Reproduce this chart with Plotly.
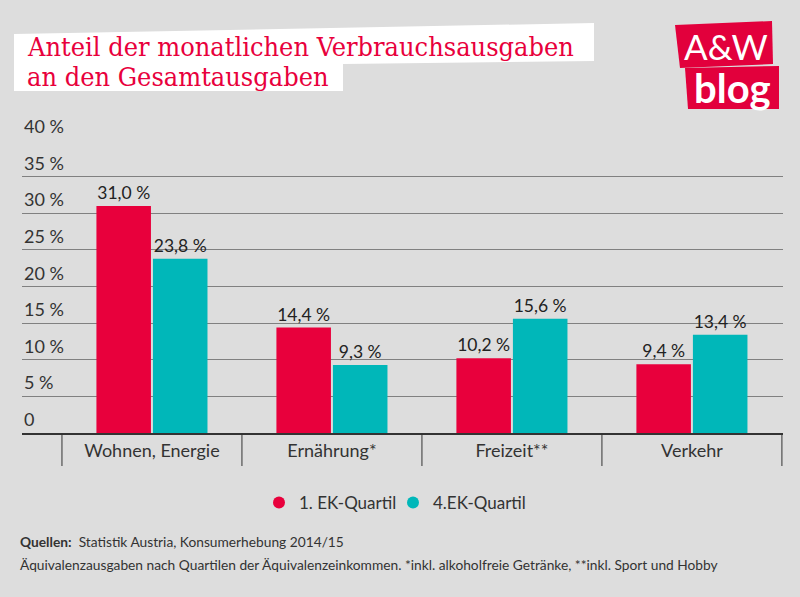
import plotly.graph_objects as go

categories = ["Wohnen, Energie", "Ernährung*", "Freizeit**", "Verkehr"]
q1_values = [31.0, 14.4, 10.2, 9.4]
q4_values = [23.8, 9.3, 15.6, 13.4]
q1_labels = ["31,0 %", "14,4 %", "10,2 %", "9,4 %"]
q4_labels = ["23,8 %", "9,3 %", "15,6 %", "13,4 %"]
y_ticks = [0, 5, 10, 15, 20, 25, 30, 35, 40]
y_tick_labels = ["0", "5 %", "10 %", "15 %", "20 %", "25 %", "30 %", "35 %", "40 %"]
series_names = ["1. EK-Quartil", "4.EK-Quartil"]

RED = "#e8003c"
TEAL = "#00b7b9"
LOGO = "#e2003c"
BG = "#dddddd"
INK = "#333333"
FONT = "Lato"
W, H = 800, 597
L, R, T, B = 22, 783, 140, 433


def px(x):
    return (x - L) / (R - L)


def py(y):
    return (B - y) / (B - T)


def poly(points, color):
    path = "M " + " L ".join(f"{px(x):.5f},{py(y):.5f}" for x, y in points) + " Z"
    return dict(type="path", path=path, xref="paper", yref="paper", fillcolor=color,
                line_width=0, layer="below")


fig = go.Figure()
fig.add_bar(x=categories, y=q1_values, name=series_names[0], marker_color=RED, marker_line_width=0,
            text=q1_labels, textposition="outside", cliponaxis=False, showlegend=False,
            textfont=dict(family=FONT, size=17.5, color="#222222"))
fig.add_bar(x=categories, y=q4_values, name=series_names[1], marker_color=TEAL, marker_line_width=0,
            text=q4_labels, textposition="outside", cliponaxis=False, showlegend=False,
            textfont=dict(family=FONT, size=17.5, color="#222222"))
for name, color in zip(series_names, [RED, TEAL]):
    fig.add_scatter(x=[None], y=[None], mode="markers", name=name,
                    marker=dict(color=color, size=17, symbol="circle"))

shapes = [
    poly([(14, 34), (594, 23), (594, 61), (343, 64), (343, 91), (14, 91)], "#ffffff"),
    poly([(675, 25), (772, 21), (773, 64), (680, 68)], LOGO),
    poly([(685, 68), (779, 66), (779, 109), (688, 109)], LOGO),
]
for i in range(len(categories) + 1):
    shapes.append(dict(type="line", x0=i - 0.5, x1=i - 0.5, xref="x", y0=py(433), y1=py(466),
                       yref="paper", line=dict(color=INK, width=1)))

annotations = [
    dict(x=px(25), y=py(47), text="Anteil der monatlichen Verbrauchsausgaben", font=dict(family="DejaVu Serif Condensed", size=26.9, color=RED)),
    dict(x=px(25), y=py(76), text="an den Gesamtausgaben", font=dict(family="DejaVu Serif Condensed", size=26.9, color=RED)),
    dict(x=px(18), y=py(541), text="<b>Quellen:</b>  Statistik Austria, Konsumerhebung 2014/15", font=dict(family=FONT, size=13.75, color=INK)),
    dict(x=px(18), y=py(564), text="Äquivalenzausgaben nach Quartilen der Äquivalenzeinkommen. *inkl. alkoholfreie Getränke, **inkl. Sport und Hobby", font=dict(family=FONT, size=13.75, color=INK)),
    dict(x=px(682), y=py(46), text="A&W", font=dict(family="Lato", size=35, color="#ffffff")),
    dict(x=px(692), y=py(88), text="<b>blog</b>", font=dict(family="Lato", size=40, color="#ffffff")),
]
for a in annotations:
    a.update(xref="paper", yref="paper", xanchor="left", yanchor="middle", showarrow=False)
for v, t in zip(y_ticks, y_tick_labels):
    annotations.append(dict(x=0, y=v, xref="paper", yref="y", text=t, xanchor="left", yanchor="bottom",
                            yshift=1, showarrow=False, font=dict(family=FONT, size=18, color=INK)))

fig.update_layout(
    width=W, height=H, autosize=False,
    paper_bgcolor=BG, plot_bgcolor=BG,
    margin=dict(l=L, r=W - R, t=T, b=H - B, pad=0),
    barmode="group", bargap=0.372, bargroupgap=0.035,
    font=dict(family=FONT, color=INK),
    shapes=shapes, annotations=annotations,
    showlegend=True,
    legend=dict(orientation="h", x=px(259), xanchor="left", y=py(503), yanchor="middle",
                xref="paper", yref="paper", font=dict(family=FONT, size=17, color=INK),
                itemsizing="constant", bgcolor="rgba(0,0,0,0)",
                entrywidth=89, entrywidthmode="pixels"),
)
fig.update_xaxes(range=[-0.722, 3.506], ticks="", showgrid=False, showline=True, linecolor=INK, linewidth=2,
                 tickfont=dict(family=FONT, size=18, color=INK), ticklabelstandoff=0)
fig.update_yaxes(range=[0, 40], tickvals=y_ticks, showticklabels=False, ticks="", showgrid=True,
                 gridcolor="#808080", gridwidth=1, zeroline=False)

fig.write_html("out.html", config=dict(displayModeBar=False), post_script="document.body.style.margin='0';")
